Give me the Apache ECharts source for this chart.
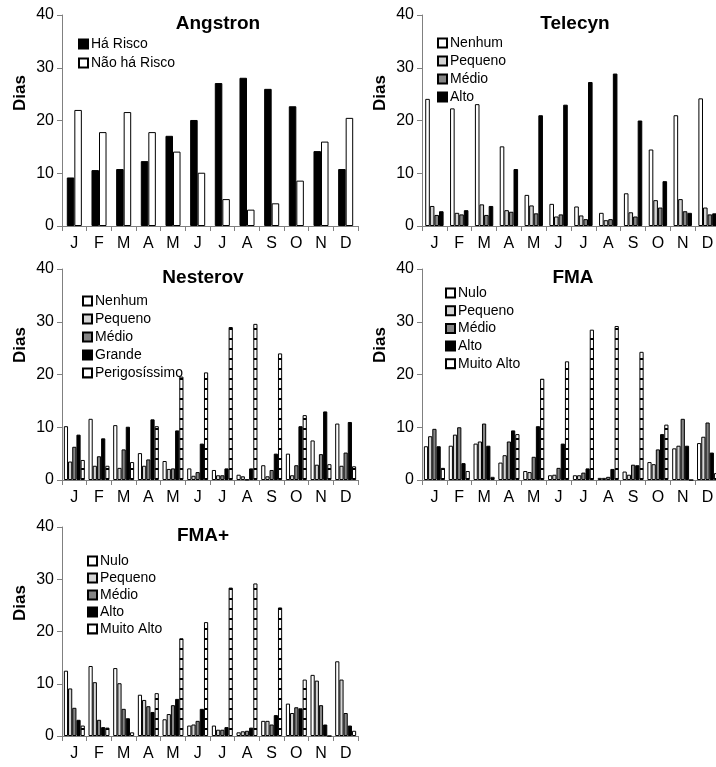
<!DOCTYPE html>
<html>
<head>
<meta charset="utf-8">
<script src="https://cdn.jsdelivr.net/npm/echarts@6/dist/echarts.min.js"></script>
<style>
  html, body { margin: 0; padding: 0; background: #fff; }
  #chart { width: 716px; height: 767px; }
</style>
</head>
<body>
<div id="chart"></div>
<script>
var months = ['J', 'F', 'M', 'A', 'M', 'J', 'J', 'A', 'S', 'O', 'N', 'D'];

// Angstron
var angstronHaRisco = [9.2, 10.6, 10.8, 12.3, 17.1, 20.1, 27.1, 28.1, 26.0, 22.7, 14.2, 10.8];
var angstronNaoHaRisco = [22.0, 17.8, 21.6, 17.8, 14.1, 10.1, 5.1, 3.1, 4.3, 8.6, 16.0, 20.5];

// Telecyn
var telecynNenhum = [24.1, 22.3, 23.1, 15.1, 5.9, 4.2, 3.7, 2.5, 6.2, 14.5, 21.0, 24.2];
var telecynPequeno = [3.8, 2.5, 4.1, 3.0, 3.9, 1.8, 2.0, 1.1, 2.6, 4.9, 5.1, 3.5];
var telecynMedio = [2.1, 2.2, 2.1, 2.7, 2.4, 2.2, 1.3, 1.3, 1.8, 3.5, 2.8, 2.2];
var telecynAlto = [2.8, 3.0, 3.8, 10.8, 21.0, 23.0, 27.3, 28.9, 20.0, 8.5, 2.5, 2.4];

// Nesterov
var nesterovNenhum = [10.2, 11.6, 10.4, 5.1, 3.6, 2.2, 1.9, 1.0, 2.8, 5.0, 7.5, 10.7];
var nesterovPequeno = [3.5, 2.7, 2.3, 2.7, 2.1, 0.8, 0.9, 0.7, 0.7, 0.9, 2.9, 2.7];
var nesterovMedio = [6.3, 4.5, 5.8, 3.9, 2.2, 1.5, 0.9, 0.1, 1.9, 2.8, 4.9, 5.2];
var nesterovGrande = [8.6, 7.9, 10.1, 11.5, 9.4, 6.9, 2.2, 2.2, 5.0, 10.2, 13.0, 11.0];
var nesterovPerigo = [3.8, 2.7, 3.4, 10.2, 19.6, 20.4, 29.0, 29.6, 24.0, 12.3, 3.0, 2.6];

// FMA
var fmaNulo = [6.4, 6.5, 6.9, 3.3, 1.7, 0.9, 0.9, 0.4, 1.6, 3.4, 6.0, 7.0];
var fmaPequeno = [8.3, 8.6, 7.3, 4.7, 1.5, 1.0, 0.9, 0.4, 1.0, 3.0, 6.5, 8.2];
var fmaMedio = [9.7, 10.0, 10.7, 7.3, 4.4, 2.3, 1.4, 0.6, 2.9, 5.8, 11.6, 10.9];
var fmaAlto = [6.4, 3.2, 6.5, 9.4, 10.2, 6.9, 2.2, 2.1, 2.8, 8.7, 6.5, 5.2];
var fmaMuitoAlto = [2.3, 1.7, 0.6, 8.7, 19.2, 22.5, 28.5, 29.2, 24.3, 10.5, 0, 1.3];

// FMA+
var fmapNulo = [12.5, 13.4, 13.0, 7.9, 3.2, 2.0, 2.0, 0.7, 2.9, 6.2, 11.7, 14.3];
var fmapPequeno = [9.1, 10.3, 10.1, 6.9, 4.2, 2.2, 1.2, 0.9, 2.9, 4.4, 10.6, 10.8];
var fmapMedio = [5.4, 3.1, 5.2, 5.7, 5.9, 2.9, 1.2, 1.0, 2.2, 5.5, 5.9, 4.4];
var fmapAlto = [3.1, 1.7, 3.4, 4.6, 7.1, 5.2, 1.7, 1.6, 4.0, 5.3, 2.2, 2.0];
var fmapMuitoAlto = [2.0, 1.6, 0.7, 8.2, 18.7, 21.8, 28.4, 29.2, 24.6, 10.8, 0, 1.0];

var myChart = echarts.init(document.getElementById('chart'));

// horizontal ladder pattern for the highest class
var stripe = document.createElement('canvas');
stripe.width = 8;
stripe.height = 10;
var ctx = stripe.getContext('2d');
ctx.fillStyle = '#ffffff';
ctx.fillRect(0, 0, 8, 10);
ctx.fillStyle = '#000000';
ctx.fillRect(0, 8, 8, 2);
var striped = { image: stripe, repeat: 'repeat' };

var WHITE = '#ffffff', LIGHT = '#d4d4d4', GREY = '#858585', BLACK = '#000000';

var font = 'Liberation Sans, Arial, sans-serif';

// panel layout
var panels = [
	{ title: 'Angstron', left: 62, top: 15, width: 296, height: 211, gap: '39%',
		names: ['Há Risco', 'Não há Risco'], data: [angstronHaRisco, angstronNaoHaRisco], colors: [BLACK, WHITE],
		titleX: 218, legendX: 78, legendY: 37, legendGap: 5, diasX: 20, diasY: 93 },
	{ title: 'Telecyn', left: 422, top: 15, width: 298, height: 211, gap: '26%',
		names: ['Nenhum', 'Pequeno', 'Médio', 'Alto'], data: [telecynNenhum, telecynPequeno, telecynMedio, telecynAlto],
		colors: [WHITE, LIGHT, GREY, BLACK],
		titleX: 575, legendX: 437, legendY: 36, legendGap: 4, diasX: 380, diasY: 93 },
	{ title: 'Nesterov', left: 62, top: 269, width: 296, height: 211, gap: '15%',
		names: ['Nenhum', 'Pequeno', 'Médio', 'Grande', 'Perigosíssimo'],
		data: [nesterovNenhum, nesterovPequeno, nesterovMedio, nesterovGrande, nesterovPerigo],
		colors: [WHITE, LIGHT, GREY, BLACK, striped],
		titleX: 203, legendX: 82, legendY: 294, legendGap: 4, diasX: 20, diasY: 345 },
	{ title: 'FMA', left: 422, top: 269, width: 298, height: 211, gap: '15%',
		names: ['Nulo', 'Pequeno', 'Médio', 'Alto', 'Muito Alto'],
		data: [fmaNulo, fmaPequeno, fmaMedio, fmaAlto, fmaMuitoAlto],
		colors: [WHITE, LIGHT, GREY, BLACK, striped],
		titleX: 573, legendX: 445, legendY: 286, legendGap: 3.7, diasX: 380, diasY: 345 },
	{ title: 'FMA+', left: 62, top: 527, width: 296, height: 209, gap: '15%',
		names: ['Nulo', 'Pequeno', 'Médio', 'Alto', 'Muito Alto'],
		data: [fmapNulo, fmapPequeno, fmapMedio, fmapAlto, fmapMuitoAlto],
		colors: [WHITE, LIGHT, GREY, BLACK, striped],
		titleX: 203, legendX: 87, legendY: 554, legendGap: 3, diasX: 20, diasY: 603 }
];

var grids = [], xAxes = [], yAxes = [], series = [], titles = [], legends = [], graphics = [];

panels.forEach(function (p, i) {
	grids.push({ left: p.left, top: p.top, width: p.width, height: p.height, containLabel: false, outerBoundsMode: 'none' });
	xAxes.push({
		type: 'category', gridIndex: i, data: months,
		axisLine: { lineStyle: { color: '#808080', width: 1 } },
		axisTick: { show: true, length: 5, lineStyle: { color: '#808080' } },
		axisLabel: { color: '#000', fontSize: 16, fontFamily: font, margin: 10 }
	});
	yAxes.push({
		type: 'value', gridIndex: i, min: 0, max: 40, interval: 10,
		axisLine: { show: true, lineStyle: { color: '#808080', width: 1 } },
		axisTick: { show: true, length: 5, lineStyle: { color: '#808080' } },
		axisLabel: { color: '#000', fontSize: 16, fontFamily: font, margin: 8 },
		splitLine: { show: false }
	});
	p.names.forEach(function (n, k) {
		series.push({
			name: n, type: 'bar', xAxisIndex: i, yAxisIndex: i,
			data: p.data[k],
			barGap: '0%', barCategoryGap: p.gap,
			itemStyle: { color: p.colors[k], borderColor: '#000', borderWidth: 1 },
			emphasis: { disabled: true }
		});
	});
	titles.push({
		text: p.title, left: p.titleX, top: p.top - 1, textAlign: 'center', padding: 0,
		textStyle: { fontSize: 19, fontWeight: 'bold', color: '#000', fontFamily: font }
	});
	legends.push({
		data: p.names, orient: 'vertical', left: p.legendX, top: p.legendY,
		itemGap: p.legendGap, itemWidth: 9, itemHeight: 9, icon: 'rect', padding: 0,
		selectedMode: false,
		textStyle: { fontSize: 14, color: '#000', fontFamily: font, padding: [0, 0, 0, -2] }
	});
	graphics.push({
		type: 'text', x: p.diasX, y: p.diasY, rotation: Math.PI / 2,
		style: { text: 'Dias', font: 'bold 17px ' + font, fill: '#000', textAlign: 'center', textVerticalAlign: 'middle' }
	});
});

var option = {
	animation: false,
	title: titles,
	legend: legends,
	grid: grids,
	xAxis: xAxes,
	yAxis: yAxes,
	series: series,
	graphic: graphics
};

myChart.setOption(option);
</script>
</body>
</html>
